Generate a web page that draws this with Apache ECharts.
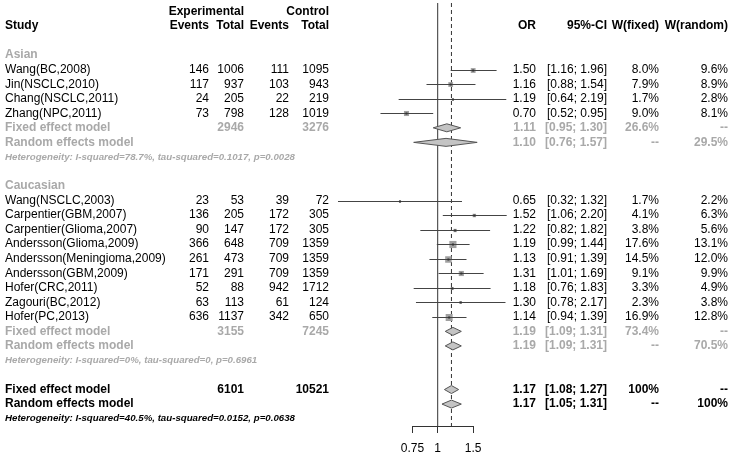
<!DOCTYPE html>
<html>
<head>
<meta charset="utf-8">
<script src="https://cdn.jsdelivr.net/npm/echarts@6/dist/echarts.min.js"></script>
<style>
html,body{margin:0;padding:0;background:#fff;}
#chart{width:733px;height:456px;}
</style>
</head>
<body>
<div id="chart"></div>
<script>
// ---------------- DATA ----------------
const asianStudies = ['Wang(BC,2008)','Jin(NSCLC,2010)','Chang(NSCLC,2011)','Zhang(NPC,2011)'];
const asianExpEvents = [146,117,24,73];
const asianExpTotal = [1006,937,205,798];
const asianCtrlEvents = [111,103,22,128];
const asianCtrlTotal = [1095,943,219,1019];
const asianOR = [1.50,1.16,1.19,0.70];
const asianLower = [1.16,0.88,0.64,0.52];
const asianUpper = [1.96,1.54,2.19,0.95];
const asianWFixed = [8.0,7.9,1.7,9.0];
const asianWRandom = [9.6,8.9,2.8,8.1];

const caucStudies = ['Wang(NSCLC,2003)','Carpentier(GBM,2007)','Carpentier(Glioma,2007)','Andersson(Glioma,2009)','Andersson(Meningioma,2009)','Andersson(GBM,2009)','Hofer(CRC,2011)','Zagouri(BC,2012)','Hofer(PC,2013)'];
const caucExpEvents = [23,136,90,366,261,171,52,63,636];
const caucExpTotal = [53,205,147,648,473,291,88,113,1137];
const caucCtrlEvents = [39,172,172,709,709,709,942,61,342];
const caucCtrlTotal = [72,305,305,1359,1359,1359,1712,124,650];
const caucOR = [0.65,1.52,1.22,1.19,1.13,1.31,1.18,1.30,1.14];
const caucLower = [0.32,1.06,0.82,0.99,0.91,1.01,0.76,0.78,0.94];
const caucUpper = [1.32,2.20,1.82,1.44,1.39,1.69,1.83,2.17,1.39];
const caucWFixed = [1.7,4.1,3.8,17.6,14.5,9.1,3.3,2.3,16.9];
const caucWRandom = [2.2,6.3,5.6,13.1,12.0,9.9,4.9,3.8,12.8];

// summaries: [fixed, random]
const asianSumOR = [1.11,1.10];
const asianSumLower = [0.95,0.76];
const asianSumUpper = [1.30,1.57];
const asianSumW = ['26.6%','--','--','29.5%'];
const asianTotals = [2946,3276];
const asianHet = 'Heterogeneity: I-squared=78.7%, tau-squared=0.1017, p=0.0028';

const caucSumOR = [1.19,1.19];
const caucSumLower = [1.09,1.09];
const caucSumUpper = [1.31,1.31];
const caucSumW = ['73.4%','--','--','70.5%'];
const caucTotals = [3155,7245];
const caucHet = 'Heterogeneity: I-squared=0%, tau-squared=0, p=0.6961';

const allSumOR = [1.17,1.17];
const allSumLower = [1.08,1.05];
const allSumUpper = [1.27,1.31];
const allSumW = ['100%','--','--','100%'];
const allTotals = [6101,10521];
const allHet = 'Heterogeneity: I-squared=40.5%, tau-squared=0.0152, p=0.0638';

const tickValues = [0.75, 1, 1.5];
const nullValue = 1;
const refValue = 1.17;

// ---------------- LAYOUT ----------------
const FONT = '"Liberation Sans", Arial, Helvetica, sans-serif';
const GREY = '#a9a9a9';
const rowPx0 = 11.5, rowStep = 14.54;
const ln = Math.log;
const col = {study:5, expEv:209, expTot:244, ctrlEv:289, ctrlTot:329, or:536, ci:607, wf:659, wr:728};

const asianStart = 4, caucStart = 13;
const rows = {asianLabel:3, asianFixed:8, caucLabel:12, caucFixed:22, allFixed:26};

const studyData = [];
asianOR.forEach((v,i)=>studyData.push([ln(v), asianStart+i, ln(asianLower[i]), ln(asianUpper[i]), asianWFixed[i]]));
caucOR.forEach((v,i)=>studyData.push([ln(v), caucStart+i, ln(caucLower[i]), ln(caucUpper[i]), caucWFixed[i]]));

const diamondData = [];
[[asianSumOR,asianSumLower,asianSumUpper,rows.asianFixed],
 [caucSumOR,caucSumLower,caucSumUpper,rows.caucFixed],
 [allSumOR,allSumLower,allSumUpper,rows.allFixed]].forEach(g=>{
  for(let k=0;k<2;k++) diamondData.push([ln(g[0][k]), g[3]+k, ln(g[1][k]), ln(g[2][k])]);
});

const xMin = -437.7/87.5, xMax = (733-437.7)/87.5;
const yMin = -rowPx0/rowStep, yMax = (456-rowPx0)/rowStep;
const lineTop = (3-rowPx0)/rowStep, lineBot = (426-rowPx0)/rowStep;

const chart = echarts.init(document.getElementById('chart'), null, {renderer:'canvas'});

function crisp(v){return Math.round(v)+0.5;}

chart.setOption({
  animation:false,
  backgroundColor:'#fff',
  grid:[
    {left:0,right:0,top:0,bottom:0},
    {left:437.7+87.5*ln(0.75), width:87.5*(ln(1.5)-ln(0.75)), top:420, height:6}
  ],
  xAxis:[
    {type:'value', gridIndex:0, min:xMin, max:xMax, show:false},
    {type:'value', gridIndex:1, min:ln(tickValues[0]), max:ln(tickValues[tickValues.length-1]),
     axisLine:{show:true, lineStyle:{color:'#333', width:1}},
     axisTick:{show:true, length:7, lineStyle:{color:'#333'}, customValues:tickValues.map(v=>ln(v))},
     axisLabel:{show:true, margin:17, color:'#000', fontSize:12, fontFamily:FONT,
       customValues:tickValues.map(v=>ln(v)),
       formatter:v=>String(Number(Math.exp(v).toFixed(2)))},
     splitLine:{show:false}}
  ],
  yAxis:[
    {type:'value', gridIndex:0, min:yMin, max:yMax, inverse:true, show:false},
    {type:'value', gridIndex:1, show:false}
  ],
  series:[
    {type:'line', xAxisIndex:0, yAxisIndex:0, symbol:'none', silent:true,
     data:[[ln(nullValue),lineTop],[ln(nullValue),lineBot]],
     lineStyle:{color:'#333', width:1}},
    {type:'line', xAxisIndex:0, yAxisIndex:0, symbol:'none', silent:true,
     data:[[ln(refValue),lineTop],[ln(refValue),lineBot]],
     lineStyle:{color:'#333', width:1, type:[4,3]}},
    {type:'custom', xAxisIndex:0, yAxisIndex:0, data:studyData, z:5,
     renderItem:(params, api)=>{
       const c = api.coord([api.value(0), api.value(1)]);
       const lo = api.coord([api.value(2), api.value(1)]);
       const hi = api.coord([api.value(3), api.value(1)]);
       const y = crisp(c[1]);
       const s = Math.max(2, 1.7*Math.sqrt(api.value(4)));
       return {type:'group', children:[
         {type:'rect', shape:{x:c[0]-s/2, y:y-s/2, width:s, height:s}, style:{fill:'#a0a0a0'}},
         {type:'line', shape:{x1:lo[0], y1:y, x2:hi[0], y2:y}, style:{stroke:'#444', lineWidth:1}},
         {type:'rect', shape:{x:c[0]-1, y:y-1, width:2, height:2}, style:{fill:'#333'}}
       ]};
     }},
    {type:'custom', xAxisIndex:0, yAxisIndex:0, data:diamondData, z:5,
     renderItem:(params, api)=>{
       const c = api.coord([api.value(0), api.value(1)]);
       const lo = api.coord([api.value(2), api.value(1)]);
       const hi = api.coord([api.value(3), api.value(1)]);
       const y = c[1], h = 4;
       return {type:'polygon', shape:{points:[[lo[0],y],[c[0],y-h],[hi[0],y],[c[0],y+h]]},
         style:{fill:'#c4c4c4', stroke:'#555', lineWidth:1}};
     }}
  ]
});

// ---------------- TEXT ----------------
const texts = [];
function yOf(r){return chart.convertToPixel({yAxisIndex:0}, r);}
function t(r, x, str, align, color, weight, size, style){
  texts.push({type:'text', silent:true, z:10, x:x, y:yOf(r),
    style:{text:String(str), fill:color||'#000', align:align||'right', verticalAlign:'middle',
      font:(style||'normal')+' '+(weight||'normal')+' '+(size||12)+'px '+FONT}});
}
const f2 = v=>v.toFixed(2);
const ci = (a,b)=>'['+f2(a)+'; '+f2(b)+']';
const pct = v=>v.toFixed(1)+'%';

// header
t(0, col.expTot, 'Experimental', 'right', '#000', 'bold');
t(0, col.ctrlTot, 'Control', 'right', '#000', 'bold');
t(1, col.study, 'Study', 'left', '#000', 'bold');
t(1, col.expEv, 'Events', 'right', '#000', 'bold');
t(1, col.expTot, 'Total', 'right', '#000', 'bold');
t(1, col.ctrlEv, 'Events', 'right', '#000', 'bold');
t(1, col.ctrlTot, 'Total', 'right', '#000', 'bold');
t(1, col.or, 'OR', 'right', '#000', 'bold');
t(1, col.ci, '95%-CI', 'right', '#000', 'bold');
t(1, col.wf, 'W(fixed)', 'right', '#000', 'bold');
t(1, col.wr, 'W(random)', 'right', '#000', 'bold');

function studyRows(start, names, ee, et, ce, ct, or, lo, hi, wf, wr){
  names.forEach((n,i)=>{
    const r = start+i;
    t(r, col.study, n, 'left');
    t(r, col.expEv, ee[i]); t(r, col.expTot, et[i]);
    t(r, col.ctrlEv, ce[i]); t(r, col.ctrlTot, ct[i]);
    t(r, col.or, f2(or[i])); t(r, col.ci, ci(lo[i],hi[i]));
    t(r, col.wf, pct(wf[i])); t(r, col.wr, pct(wr[i]));
  });
}
function summaryRows(rF, sOR, sLo, sHi, sW, totals, het, color, hetSize){
  t(rF, col.study, 'Fixed effect model', 'left', color, 'bold');
  t(rF+1, col.study, 'Random effects model', 'left', color, 'bold');
  t(rF, col.expTot, totals[0], 'right', color, 'bold');
  t(rF, col.ctrlTot, totals[1], 'right', color, 'bold');
  for(let k=0;k<2;k++){
    t(rF+k, col.or, f2(sOR[k]), 'right', color, 'bold');
    t(rF+k, col.ci, ci(sLo[k], sHi[k]), 'right', color, 'bold');
    t(rF+k, col.wf, sW[k*2], 'right', color, 'bold');
    t(rF+k, col.wr, sW[k*2+1], 'right', color, 'bold');
  }
  t(rF+2, col.study, het, 'left', color, 'bold', hetSize, 'italic');
}

t(rows.asianLabel, col.study, 'Asian', 'left', GREY, 'bold');
studyRows(asianStart, asianStudies, asianExpEvents, asianExpTotal, asianCtrlEvents, asianCtrlTotal, asianOR, asianLower, asianUpper, asianWFixed, asianWRandom);
summaryRows(rows.asianFixed, asianSumOR, asianSumLower, asianSumUpper, asianSumW, asianTotals, asianHet, GREY, 9.7);

t(rows.caucLabel, col.study, 'Caucasian', 'left', GREY, 'bold');
studyRows(caucStart, caucStudies, caucExpEvents, caucExpTotal, caucCtrlEvents, caucCtrlTotal, caucOR, caucLower, caucUpper, caucWFixed, caucWRandom);
summaryRows(rows.caucFixed, caucSumOR, caucSumLower, caucSumUpper, caucSumW, caucTotals, caucHet, GREY, 9.7);

summaryRows(rows.allFixed, allSumOR, allSumLower, allSumUpper, allSumW, allTotals, allHet, '#000', 9.7);

chart.setOption({graphic:{elements:texts}});
</script>
</body>
</html>
